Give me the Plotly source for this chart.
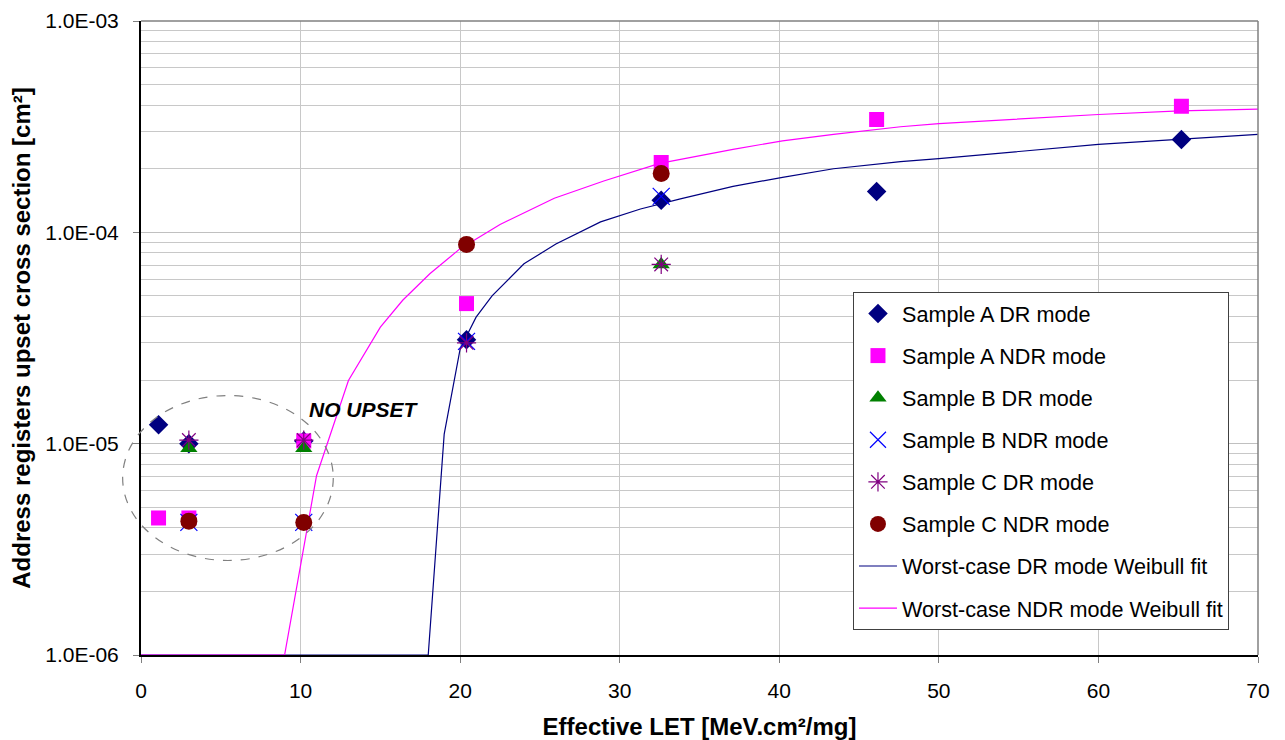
import plotly.graph_objects as go
import math

# ---------------- data ----------------
a_dr_x = [1.1, 3.0, 10.2, 20.4, 32.6, 46.1, 65.2]
a_dr_y = [1.23e-5, 1.0e-5, 1.03e-5, 3.1e-5, 1.42e-4, 1.56e-4, 2.75e-4]

a_ndr_x = [1.1, 3.0, 10.2, 20.4, 32.6, 46.1, 65.2]
a_ndr_y = [4.45e-6, 4.45e-6, 1.03e-5, 4.6e-5, 2.14e-4, 3.42e-4, 3.95e-4]

b_dr_x = [3.0, 10.2, 32.6]
b_dr_y = [9.5e-6, 9.5e-6, 7.05e-5]

b_ndr_x = [3.0, 10.2, 20.4, 32.6]
b_ndr_y = [4.24e-6, 4.24e-6, 3.05e-5, 1.48e-4]

c_dr_x = [3.0, 10.2, 20.4, 32.6]
c_dr_y = [1.04e-5, 1.04e-5, 3.0e-5, 7.05e-5]

c_ndr_x = [3.0, 10.2, 20.4, 32.6]
c_ndr_y = [4.3e-6, 4.24e-6, 8.77e-5, 1.90e-4]

fit_dr_x = [0, 18.0, 19.0, 20.0, 21.0, 22.0, 24.0, 26.0, 28.8, 31.3, 33.8, 37.1, 40.2, 43.4, 47.6, 50.0, 60.0, 65.1, 70.0]
fit_dr_y = [1e-6, 1e-6, 1.11e-5, 2.81e-5, 3.97e-5, 5.0e-5, 7.1e-5, 8.8e-5, 1.12e-4, 1.29e-4, 1.44e-4, 1.65e-4,
            1.82e-4, 2.0e-4, 2.16e-4, 2.23e-4, 2.61e-4, 2.75e-4, 2.91e-4]

fit_ndr_x = [0, 9.0, 11.0, 13.0, 15.0, 16.4, 18.1, 20.0, 22.5, 25.9, 29.0, 32.5, 37.1, 40.2, 43.4, 47.6, 50.0, 60.0, 65.1, 70.0]
fit_ndr_y = [1e-6, 1e-6, 7.05e-6, 1.99e-5, 3.56e-5, 4.77e-5, 6.37e-5, 8.37e-5, 1.09e-4, 1.45e-4, 1.75e-4, 2.12e-4,
             2.47e-4, 2.71e-4, 2.91e-4, 3.16e-4, 3.27e-4, 3.61e-4, 3.76e-4, 3.83e-4]

y_major = [1e-6, 1e-5, 1e-4, 1e-3]
y_labels = ["1.0E-06", "1.0E-05", "1.0E-04", "1.0E-03"]
y_minor = [m * 10 ** e for e in (-6, -5, -4) for m in range(2, 10)]
x_ticks = [0, 10, 20, 30, 40, 50, 60, 70]

names = ["Sample A DR mode", "Sample A NDR mode", "Sample B DR mode", "Sample B NDR mode",
         "Sample C DR mode", "Sample C NDR mode",
         "Worst-case DR mode Weibull fit", "Worst-case NDR mode Weibull fit"]

# "no upset" region (data units)
ell_x = [-1.15, 12.05]
ell_y = [2.8e-6, 1.69e-5]
note_x, note_y = 14.0, 1.45e-5

X_RANGE = [0, 70]
Y_RANGE = [-6, -3]

FONT = "Liberation Sans, Arial, sans-serif"

fig = go.Figure()

# fits (drawn first, under markers), but listed last in legend
fig.add_trace(go.Scatter(x=fit_dr_x, y=fit_dr_y, mode="lines", name=names[6],
                         line=dict(color="#000080", width=1.2), legendrank=7, legendgroup="g7"))
fig.add_trace(go.Scatter(x=fit_ndr_x, y=fit_ndr_y, mode="lines", name=names[7],
                         line=dict(color="#FF00FF", width=1.2), legendrank=8, legendgroup="g8"))

fig.add_trace(go.Scatter(x=a_dr_x, y=a_dr_y, mode="markers", name=names[0], legendrank=1, legendgroup="g1",
                         marker=dict(symbol="diamond", size=15, color="#000080")))
fig.add_trace(go.Scatter(x=a_ndr_x, y=a_ndr_y, mode="markers", name=names[1], legendrank=2, legendgroup="g2",
                         marker=dict(symbol="square", size=15, color="#FF00FF")))
fig.add_trace(go.Scatter(x=b_dr_x, y=b_dr_y, mode="markers", name=names[2], legendrank=3, legendgroup="g3",
                         marker=dict(symbol="triangle-up", size=15, color="#008000")))
fig.add_trace(go.Scatter(x=b_ndr_x, y=b_ndr_y, mode="markers", name=names[3], legendrank=4, legendgroup="g4",
                         marker=dict(symbol="x-thin-open", size=17, color="#0000FF",
                                     line=dict(color="#0000FF", width=1.2))))
fig.add_trace(go.Scatter(x=c_dr_x, y=c_dr_y, mode="markers", name=names[4], legendrank=5, legendgroup="g5",
                         marker=dict(symbol="asterisk-open", size=16, color="#800080",
                                     line=dict(color="#800080", width=1.2))))
fig.add_trace(go.Scatter(x=c_ndr_x, y=c_ndr_y, mode="markers", name=names[5], legendrank=6, legendgroup="g6",
                         marker=dict(symbol="circle", size=17, color="#800000")))


def xp(v):
    return (v - X_RANGE[0]) / (X_RANGE[1] - X_RANGE[0])


def yp(v):
    return (math.log10(v) - Y_RANGE[0]) / (Y_RANGE[1] - Y_RANGE[0])


shapes = [
    dict(type="circle", xref="paper", yref="paper",
         x0=xp(ell_x[0]), x1=xp(ell_x[1]), y0=yp(ell_y[0]), y1=yp(ell_y[1]),
         line=dict(color="#808080", width=1.2, dash="dash"), layer="above"),
    dict(type="line", xref="paper", yref="paper", x0=0, x1=1, y0=1, y1=1,
         line=dict(color="#808080", width=1.5), layer="above"),
    dict(type="line", xref="paper", yref="paper", x0=1, x1=1, y0=0, y1=1,
         line=dict(color="#808080", width=1.5), layer="above"),
]

# the page body adds an 8px offset; size the figure so the plot area lands where the reference has it
fig.update_layout(
    width=1277, height=732,
    margin=dict(l=133, r=27, t=13, b=85, autoexpand=False),
    paper_bgcolor="white", plot_bgcolor="white",
    font=dict(family=FONT, size=21, color="black"),
    showlegend=True,
    legend=dict(x=0.6374, y=0.5726, xanchor="left", yanchor="top",
                bgcolor="white", bordercolor="#404040", borderwidth=1,
                font=dict(family=FONT, size=21.6, color="black"),
                traceorder="grouped", tracegroupgap=11, itemwidth=38),
    shapes=shapes,
    annotations=[dict(x=note_x, y=math.log10(note_y), xref="x", yref="y", showarrow=False,
                      text="<b><i>NO UPSET</i></b>", font=dict(family=FONT, size=21, color="black"))],
    xaxis=dict(range=X_RANGE, tickmode="array", tickvals=x_ticks, ticks="outside", ticklen=6,
               tickcolor="#808080", showline=True, linecolor="black", linewidth=2,
               showgrid=True, gridcolor="#C8C8C8", gridwidth=1, zeroline=False,
               ticklabelstandoff=10, automargin=False,
               title=dict(text="<b>Effective LET [MeV.cm²/mg]</b>", standoff=17,
                          font=dict(family=FONT, size=24))),
    yaxis=dict(type="log", range=Y_RANGE, tickmode="array", tickvals=y_major, ticktext=y_labels,
               ticks="outside", ticklen=6, tickcolor="#808080",
               showline=True, linecolor="black", linewidth=2,
               showgrid=True, gridcolor="#C0C0C0", gridwidth=1, zeroline=False,
               ticklabelstandoff=10, automargin=False,
               minor=dict(tickmode="array", tickvals=y_minor, showgrid=True, gridcolor="#C8C8C8",
                          gridwidth=1, ticks=""),
               title=dict(text="<b>Address registers upset cross section [cm²]</b>", standoff=13,
                          font=dict(family=FONT, size=24))),
)

fig.write_html("out.html")
